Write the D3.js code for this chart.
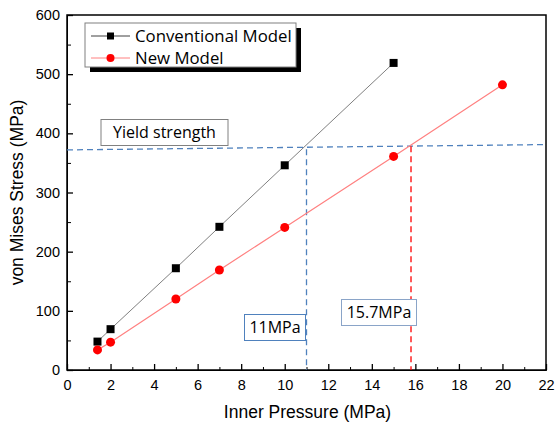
<!DOCTYPE html>
<html>
<head>
<meta charset="utf-8">
<script src="https://cdn.jsdelivr.net/npm/d3@7"></script>
<style>
  body { margin: 0; background: #fff; }
  text { font-family: "Liberation Sans", Arial, sans-serif; }
  .note { font-family: "Open Sans", "Noto Sans", sans-serif; }
</style>
</head>
<body>
<svg width="555" height="423"></svg>
<script>
// chart data
var pressure = [1.4, 2, 5, 7, 10, 15, 20];
var conventional = [48, 69, 172, 242, 346, 519];
var newModel = [34, 47, 120, 169, 241, 361, 482];
var xTicks = [0, 2, 4, 6, 8, 10, 12, 14, 16, 18, 20, 22];
var yTicks = [0, 100, 200, 300, 400, 500, 600];
var yieldLine = [[0, 372], [22, 381]];
var cutoffs = [{ x: 11, top: 373, label: "11MPa", color: "#4f81bd" },
               { x: 15.8, top: 378, label: "15.7MPa", color: "#ff0000" }];

var margin = { top: 15, right: 9, bottom: 53, left: 67 },
    width = 555 - margin.left - margin.right,
    height = 423 - margin.top - margin.bottom;

var svg = d3.select("svg")
    .append("g")
    .attr("transform", "translate(" + margin.left + "," + margin.top + ")");

var x = d3.scaleLinear().domain([0, 22]).range([0, width]);
var y = d3.scaleLinear().domain([0, 600]).range([height, 0]);

// minor ticks
svg.append("g")
    .attr("transform", "translate(0," + height + ")")
    .call(d3.axisBottom(x).tickValues(d3.range(1, 22, 2)).tickSize(-3).tickFormat(""))
    .call(g => g.select(".domain").remove());
svg.append("g")
    .call(d3.axisLeft(y).tickValues(d3.range(50, 600, 100)).tickSize(-4).tickFormat(""))
    .call(g => g.select(".domain").remove());

// major axes
var xAxis = svg.append("g")
    .attr("transform", "translate(0," + height + ")")
    .call(d3.axisBottom(x).tickValues(xTicks).tickSize(-6).tickPadding(10));
var yAxis = svg.append("g")
    .call(d3.axisLeft(y).tickValues(yTicks).tickSize(-6).tickPadding(7));
[xAxis, yAxis].forEach(function(a) {
    a.selectAll("text").style("font-size", "14.5px").attr("fill", "#000");
    a.selectAll("line").attr("stroke-width", 1.3);
});

// frame
svg.append("rect")
    .attr("width", width).attr("height", height)
    .attr("fill", "none").attr("stroke", "#000").attr("stroke-width", 1.5);

// axis titles
svg.append("text")
    .attr("x", width / 2 + 1)
    .attr("y", height + 48)
    .attr("text-anchor", "middle")
    .style("font-size", "17.5px")
    .text("Inner Pressure (MPa)");
svg.append("text")
    .attr("transform", "rotate(-90)")
    .attr("x", -height / 2)
    .attr("y", -44)
    .attr("text-anchor", "middle")
    .style("font-size", "17.5px")
    .text("von Mises Stress (MPa)");

// yield line and cutoffs
svg.append("line")
    .attr("x1", x(yieldLine[0][0])).attr("y1", y(yieldLine[0][1]))
    .attr("x2", x(yieldLine[1][0])).attr("y2", y(yieldLine[1][1]))
    .attr("stroke", "#4f81bd").attr("stroke-width", 1.3).attr("stroke-dasharray", "6,4");
svg.selectAll(".cut")
    .data(cutoffs).enter().append("line")
    .attr("x1", d => x(d.x)).attr("x2", d => x(d.x))
    .attr("y1", d => y(d.top)).attr("y2", y(0))
    .attr("stroke", d => d.color).attr("stroke-width", 1.3).attr("stroke-dasharray", "6,4");

// series
var line = d3.line().x(d => x(d[0])).y(d => y(d[1]));
var convPts = conventional.map((v, i) => [pressure[i], v]);
var newPts = newModel.map((v, i) => [pressure[i], v]);

svg.append("path").datum(convPts).attr("d", line)
    .attr("fill", "none").attr("stroke", "#808080").attr("stroke-width", 1);
svg.append("path").datum(newPts).attr("d", line)
    .attr("fill", "none").attr("stroke", "#ff8080").attr("stroke-width", 1.2);

svg.selectAll(".sq").data(convPts).enter().append("rect")
    .attr("x", d => x(d[0]) - 4).attr("y", d => y(d[1]) - 4)
    .attr("width", 8).attr("height", 8).attr("fill", "#000");
svg.selectAll(".dot").data(newPts).enter().append("circle")
    .attr("cx", d => x(d[0])).attr("cy", d => y(d[1])).attr("r", 4.5)
    .attr("fill", "#ff0000");

// annotation boxes (page coords)
function box(x0, y0, w, h, stroke, label, fs) {
    var g = d3.select("svg").append("g");
    g.append("rect").attr("x", x0).attr("y", y0).attr("width", w).attr("height", h)
        .attr("fill", "#fff").attr("stroke", stroke).attr("stroke-width", 1);
    g.append("text").attr("class", "note").attr("x", x0 + w / 2).attr("y", y0 + h / 2 + 5.5)
        .attr("text-anchor", "middle").style("font-size", fs + "px").text(label);
}
box(101, 119.5, 127, 26, "#808080", "Yield strength", 16);
box(244.5, 314.5, 61, 26, "#4f81bd", cutoffs[0].label, 16);
box(341.5, 299.5, 75, 26, "#8aa4c8", cutoffs[1].label, 16);

// legend
var lg = d3.select("svg").append("g");
lg.append("rect").attr("x", 90).attr("y", 28).attr("width", 211).attr("height", 44).attr("fill", "#000");
lg.append("rect").attr("x", 85).attr("y", 23).attr("width", 211).attr("height", 44)
    .attr("fill", "#fff").attr("stroke", "#808080").attr("stroke-width", 1);
var entries = [
    { name: "Conventional Model", color: "#000", lineColor: "#404040", sym: "sq" },
    { name: "New Model", color: "#ff0000", lineColor: "#ff8080", sym: "dot" }
];
entries.forEach(function(e, i) {
    var cy = 36 + i * 22;
    lg.append("line").attr("x1", 91).attr("x2", 130).attr("y1", cy).attr("y2", cy)
        .attr("stroke", e.lineColor).attr("stroke-width", 1);
    if (e.sym === "sq") {
        lg.append("rect").attr("x", 107).attr("y", cy - 3.5).attr("width", 7).attr("height", 7).attr("fill", e.color);
    } else {
        lg.append("circle").attr("cx", 110.5).attr("cy", cy).attr("r", 4).attr("fill", e.color);
    }
    lg.append("text").attr("class", "note").attr("x", 135).attr("y", cy + 6).style("font-size", "16.8px").text(e.name);
});
</script>
</body>
</html>
